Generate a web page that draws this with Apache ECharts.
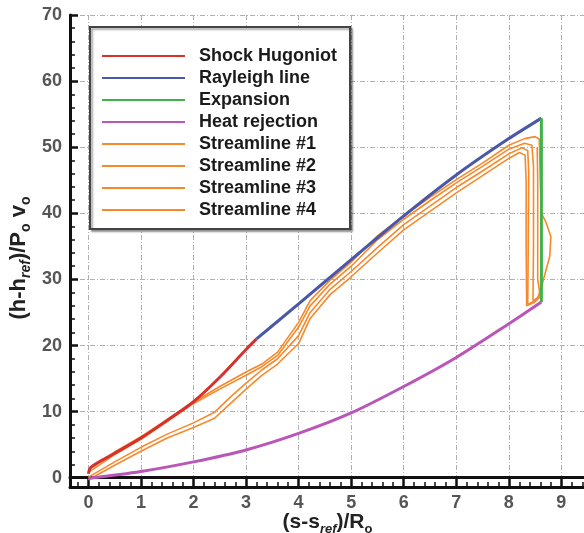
<!DOCTYPE html>
<html>
<head>
<meta charset="utf-8">
<script src="https://cdn.jsdelivr.net/npm/echarts@6/dist/echarts.min.js"></script>
<style>
html,body{margin:0;padding:0;background:#fff;}
#c{width:584px;height:533px;}
</style>
</head>
<body>
<div id="c"></div>
<script>
// ---- data (s-s_ref)/R_o vs (h-h_ref)/P_o v_o ----
const seriesNames = ['Shock Hugoniot','Rayleigh line','Expansion','Heat rejection','Streamline #1','Streamline #2','Streamline #3','Streamline #4'];
const xTicks = [0,1,2,3,4,5,6,7,8,9];
const yTicks = [0,10,20,30,40,50,60,70];

const hugS = [0, 0.05, 0.5, 1, 1.5, 2, 2.5, 3, 3.2];
const hugH = [0.6, 1.6, 3.7, 6.0, 8.7, 11.5, 15.2, 19.4, 21.0];

const rayS = [3.2, 4, 5, 6, 7, 8, 8.62];
const rayH = [21.0, 26.3, 33.0, 39.6, 45.8, 51.3, 54.4];

const expS = [8.62, 8.62];
const expH = [54.4, 26.6];

const heatS = [0, 1, 2, 3, 4, 5, 6, 7, 8, 8.62];
const heatH = [-0.1, 0.95, 2.4, 4.2, 6.7, 9.8, 13.8, 18.2, 23.3, 26.6];

const sl1S = [0, 0.5, 1, 1.5, 1.95, 2.5, 3.0, 3.3, 3.6, 4, 4.22, 4.6, 5, 5.5, 6, 6.5, 7, 7.5, 8, 8.3, 8.5, 8.58, 8.6, 8.62, 8.7, 8.8, 8.78, 8.66, 8.6];
const sl1H = [1.2, 3.9, 6.2, 8.8, 11.2, 13.8, 16.0, 17.2, 19.0, 23.5, 26.8, 29.9, 32.6, 36.6, 39.6, 42.4, 45.1, 47.6, 50.3, 51.3, 51.6, 51.2, 45, 40, 38.8, 36.5, 33.5, 30, 28];
const sl2S = [0, 0.5, 1, 1.5, 1.95, 2.5, 3.0, 3.3, 3.6, 4, 4.22, 4.6, 5, 5.5, 6, 6.5, 7, 7.5, 8, 8.3, 8.44, 8.47, 8.47, 8.46, 8.55, 8.6];
const sl2H = [0.8, 3.5, 5.8, 8.5, 11.0, 13.4, 15.5, 16.8, 18.5, 22.8, 26.0, 29.3, 32.0, 36.0, 39.1, 41.9, 44.6, 47.1, 49.7, 50.6, 50.3, 47, 35, 26.8, 27.2, 28.4];
const sl3S = [0, 0.5, 1, 1.5, 2, 2.4, 2.7, 3, 3.3, 3.6, 4, 4.22, 4.6, 5, 5.5, 6, 6.5, 7, 7.5, 8, 8.25, 8.36, 8.38, 8.37, 8.36, 8.5, 8.6];
const sl3H = [0.1, 2.4, 4.6, 6.6, 8.3, 9.9, 12.2, 14.3, 16.3, 18.0, 21.5, 25.0, 28.5, 31.2, 34.8, 38.3, 41.1, 43.9, 46.4, 49.0, 49.9, 49.5, 46, 35, 26.2, 26.8, 27.8];
const sl4S = [0, 0.5, 1, 1.5, 2, 2.4, 2.7, 3, 3.3, 3.6, 4, 4.22, 4.6, 5, 5.5, 6, 6.5, 7, 7.5, 8, 8.2, 8.31, 8.33, 8.33, 8.34, 8.48, 8.6, 8.55, 8.55, 8.54];
const sl4H = [-0.3, 1.9, 4.0, 6.0, 7.6, 9.0, 11.2, 13.4, 15.5, 17.2, 20.3, 24.1, 27.7, 30.4, 34.0, 37.5, 40.3, 43.1, 45.7, 48.3, 49.2, 48.8, 45, 35, 26.0, 26.5, 27.4, 30, 45, 50];

const colors = ['#d8312c', '#4a58a8', '#3fb24a', '#b956b8', '#f7892b', '#f7892b', '#f7892b', '#f7892b'];

function zip(a, b) { return a.map((v, i) => [v, b[i]]); }
const xs = [hugS, rayS, expS, heatS, sl1S, sl2S, sl3S, sl4S];
const ys = [hugH, rayH, expH, heatH, sl1H, sl2H, sl3H, sl4H];

const series = seriesNames.map((n, i) => ({
  name: n,
  type: 'line',
  data: zip(xs[i], ys[i]),
  symbol: 'none',
  showSymbol: false,
  smooth: (i === 0 || i === 3) ? 0.3 : (i === 1 ? 0.15 : false),
  z: i >= 4 ? 3 : 4,
  lineStyle: { color: colors[i], width: i >= 4 ? 1.6 : 3 },
  itemStyle: { color: colors[i] },
  emphasis: { disabled: true },
  animation: false
}));

const axisCommon = {
  axisLine: { show: true, onZero: false, lineStyle: { color: '#111', width: 3 } },
  axisTick: { show: true, inside: true, length: 8, lineStyle: { color: '#111', width: 2.5 } },
  minorTick: { show: true, splitNumber: 5, length: 5, lineStyle: { color: '#111', width: 1.5 } },
  splitLine: { show: true, lineStyle: { color: '#b0b0b0', width: 1, type: [5, 2, 1, 2] } },
};

const labelStyle = { fontFamily: 'Liberation Sans', fontSize: 18, fontWeight: 'bold', color: '#555' };
function nameStyle(size, sub, extra) {
  return Object.assign({
    fontFamily: 'Liberation Sans', fontSize: size, fontWeight: 'bold', color: '#222', lineHeight: size + 6,
    rich: {
      r: { fontFamily: 'Liberation Sans', fontSize: sub, fontWeight: 'bold', fontStyle: 'italic', color: '#222', verticalAlign: 'bottom', lineHeight: sub },
      o: { fontFamily: 'Liberation Sans', fontSize: sub, fontWeight: 'bold', color: '#222', verticalAlign: 'bottom', lineHeight: sub }
    }
  }, extra || {});
}

const chart = echarts.init(document.getElementById('c'), null, { renderer: 'canvas' });
chart.setOption({
  animation: false,
  backgroundColor: '#fff',
  grid: { left: 70, top: 15, width: 515, height: 472, containLabel: false, outerBoundsMode: 'none' },
  legend: {
    orient: 'vertical',
    left: 90, top: 27,
    padding: [20, 13, 10, 11],
    itemWidth: 83, itemHeight: 14, itemGap: 4,
    itemStyle: { opacity: 0 },
    backgroundColor: '#fff',
    borderColor: '#444', borderWidth: 2,
    shadowColor: 'rgba(0,0,0,0.35)', shadowBlur: 2, shadowOffsetX: 2, shadowOffsetY: 2,
    selectedMode: false,
    textStyle: { fontFamily: 'Liberation Sans', fontSize: 18, fontWeight: 'bold', color: '#1a1a1a', padding: [0, 0, 0, 9] },
    data: seriesNames
  },
  xAxis: [
    Object.assign({
      type: 'value', min: -0.35, max: 9.45, splitNumber: 10,
      axisLabel: Object.assign({ margin: 7, formatter: v => (Number.isInteger(v) && xTicks.includes(v)) ? String(v) : '' }, labelStyle),
      name: '(s-s{r|ref})/R{o|o}',
      nameLocation: 'middle', nameGap: 22, nameMoveOverlap: false,
      nameTextStyle: nameStyle(21, 13)
    }, axisCommon),
    {
      type: 'value', position: 'top', min: -0.35, max: 9.45,
      axisLine: { show: true, lineStyle: { color: '#111', width: 3 } },
      axisTick: { show: false }, axisLabel: { show: false }, splitLine: { show: false }
    }
  ],
  yAxis: [
    Object.assign({
      type: 'value', min: -1.4, max: 70, splitNumber: 7,
      axisLabel: Object.assign({ margin: 8, formatter: v => (Number.isInteger(v) && yTicks.includes(v)) ? String(v) : '' }, labelStyle),
      name: '(h-h{r|ref})/P{o|o} v{o|o}',
      nameLocation: 'middle', nameGap: 37, nameRotate: 90, nameMoveOverlap: false,
      nameTextStyle: nameStyle(22, 14, { padding: [0, 14, 0, 0] })
    }, axisCommon)
  ],
  series: series
});
</script>
</body>
</html>
